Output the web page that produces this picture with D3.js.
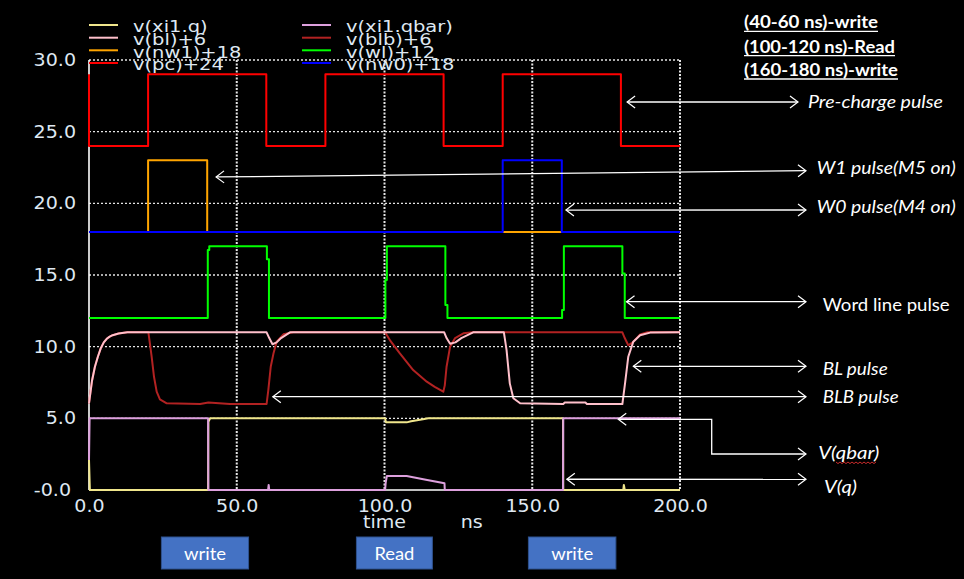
<!DOCTYPE html>
<html><head><meta charset="utf-8">
<script src="https://cdn.jsdelivr.net/npm/d3@7"></script>
<style>body{margin:0;background:#000;} svg{display:block;}</style>
</head><body>
<script>
// ---------------- data ----------------
const xTicks = [0, 50, 100, 150, 200];
const xTickLabels = ["0.0", "50.0", "100.0", "150.0", "200.0"];
const yTicks = [0, 5, 10, 15, 20, 25, 30];
const yTickLabels = ["-0.0", "5.0", "10.0", "15.0", "20.0", "25.0", "30.0"];

// time (ns) / raw voltage (V) of each signal; offsets added when plotted
const pcT = [0, 0, 20, 20, 60, 60, 80, 80, 120, 120, 140, 140, 180, 180, 200];
const pcV = [5, 0, 0, 5, 5, 0, 0, 5, 5, 0, 0, 5, 5, 0, 0];

const nw1T = [0, 20, 20, 40, 40, 200];
const nw1V = [0, 0, 5, 5, 0, 0];

const nw0T = [0, 140, 140, 160, 160, 200];
const nw0V = [0, 0, 5, 5, 0, 0];

const wlT = [0, 40.2, 40.2, 40.7, 40.7, 60.2, 60.2, 60.9, 60.9, 100.3, 100.3, 100.8, 100.8, 120.6, 120.6, 121.3, 121.3, 160.1, 160.1, 160.7, 160.7, 180.5, 180.5, 181.3, 181.3, 200];
const wlV = [0, 0, 4.75, 4.75, 5, 5, 4.1, 4.1, 0, 0, 2.65, 2.65, 5, 5, 0.9, 0.9, 0, 0, 0.55, 0.55, 5, 5, 3.1, 3.1, 0, 0];

const blT = [0, 1, 2, 3, 4, 5, 6, 7, 8, 10, 13, 40, 60.1, 61, 62.1, 63.5, 65, 68, 100, 120.2, 121, 122.2, 124, 126, 130, 140.4, 141.3, 142.4, 143.6, 145.9, 160.5, 161, 168, 168.5, 180.5, 181.4, 182.5, 184.2, 186.5, 189.9, 200];
const blV = [0.05, 1.6, 2.6, 3.3, 3.9, 4.3, 4.55, 4.7, 4.8, 4.92, 5.0, 5.0, 5.0, 4.6, 4.17, 4.3, 4.6, 5.0, 5.0, 5.0, 4.6, 4.2, 4.3, 4.6, 5.0, 5.0, 3.77, 1.44, 0.4, 0.05, 0.0, 0.1, 0.1, 0.0, 0.0, 1.44, 3.3, 4.35, 4.8, 4.98, 5.0];

const blbT = [0, 1, 2, 3, 4, 5, 6, 7, 8, 10, 13, 20.1, 21.2, 22, 22.9, 24, 26.3, 37.6, 40.4, 47.7, 60.1, 60.7, 61.5, 62.4, 63.5, 65.8, 69.1, 100.2, 102, 105.2, 109.7, 114.3, 117, 119.9, 120.4, 121, 122.2, 123.9, 126.7, 130, 180.5, 181.3, 182.5, 184, 186.5, 189, 200];
const blbV = [0.05, 1.6, 2.6, 3.3, 3.9, 4.3, 4.55, 4.7, 4.8, 4.92, 5.0, 5, 3.3, 1.9, 0.86, 0.33, 0.05, 0, 0.1, 0, 0, 1.0, 2.6, 3.5, 4.35, 4.86, 5, 5, 4.4, 3.53, 2.37, 1.56, 1.2, 0.86, 1.3, 2.6, 4.0, 4.6, 4.93, 5, 5, 4.6, 4.1, 4.3, 4.85, 5, 5];

const qT = [0, 0.3, 40.3, 40.4, 41, 100.2, 100.5, 107.5, 109, 111, 113, 114.8, 160.4, 160.5, 180.8, 181, 181.3, 200];
const qV = [2.1, 0, 0, 4.75, 5, 5, 4.72, 4.72, 4.8, 4.87, 4.93, 5, 5, 0, 0, 0.35, 0, 0];

const qbT = [0, 0.2, 40.3, 40.4, 60.6, 60.8, 61, 100.2, 100.4, 100.8, 107.5, 114, 120.3, 120.4, 160.4, 160.5, 200];
const qbV = [2.1, 5, 5, 0, 0, 0.35, 0, 0, 0.5, 0.98, 0.98, 0.72, 0.47, 0, 0, 5, 5];

const legendCol1 = ["v(xi1.q)", "v(bl)+6", "v(nw1)+18", "v(pc)+24"];
const legendCol2 = ["v(xi1.qbar)", "v(blb)+6", "v(wl)+12", "v(nw0)+18"];
const headerLines = ["(40-60 ns)-write", "(100-120 ns)-Read", "(160-180 ns)-write"];
const buttonLabels = ["write", "Read", "write"];
const buttonTimes = [[24.5, 54], [90.5, 116.2], [148.7, 178.3]];

// ---------------- setup ----------------
const W = 964, H = 579;
const svg = d3.select("body").append("svg").attr("width", W).attr("height", H);
svg.append("rect").attr("width", W).attr("height", H).attr("fill", "#000");

const x = d3.scaleLinear().domain([0, 200]).range([89, 680]);
const y = d3.scaleLinear().domain([0, 30]).range([490, 60]);

const txtCol = "#dfe8f2";
function stretch(sel, f) {
  sel.each(function () {
    const w = this.getComputedTextLength();
    d3.select(this).attr("textLength", w * f).attr("lengthAdjust", "spacingAndGlyphs");
  });
}
function fit(sel, w) { sel.attr("textLength", w).attr("lengthAdjust", "spacingAndGlyphs"); }

// grid
const grid = svg.append("g");
grid.selectAll("line.h").data(yTicks.filter(d => d > 0)).join("line")
  .attr("x1", x(0)).attr("x2", x(200)).attr("y1", d => y(d)).attr("y2", d => y(d))
  .attr("stroke", "#e6e6e6").attr("stroke-width", 1.4).attr("stroke-dasharray", "2,2");
grid.selectAll("line.v").data(xTicks.filter(d => d > 0)).join("line")
  .attr("x1", d => x(d)).attr("x2", d => x(d)).attr("y1", y(30)).attr("y2", y(0))
  .attr("stroke", "#e6e6e6").attr("stroke-width", 2).attr("stroke-dasharray", "2,1.5");

// axes lines
svg.append("line").attr("x1", x(0)).attr("x2", x(0)).attr("y1", y(30)).attr("y2", y(0))
  .attr("stroke", "#fff").attr("stroke-width", 1.6);
svg.append("line").attr("x1", x(0)).attr("x2", x(200)).attr("y1", y(0)).attr("y2", y(0))
  .attr("stroke", "#fff").attr("stroke-width", 1.6);

// y axis labels
const yAxis = d3.axisLeft(y).tickValues(yTicks).tickSize(0).tickPadding(13)
  .tickFormat((d, i) => yTickLabels[i]);
const gy = svg.append("g").attr("transform", `translate(${x(0)},0)`).call(yAxis);
gy.select(".domain").remove();
gy.selectAll("text").attr("fill", txtCol).attr("font-family", "DejaVu Sans").attr("font-size", 17)
  .attr("dx", d => d === 0 ? -5 : 0);
stretch(gy.selectAll("text"), 1.12);

// x axis labels
const xAxis = d3.axisBottom(x).tickValues(xTicks).tickSize(0).tickPadding(10)
  .tickFormat((d, i) => xTickLabels[i]);
const gx = svg.append("g").attr("transform", `translate(0,${y(0)})`).call(xAxis);
gx.select(".domain").remove();
gx.selectAll("text").attr("fill", txtCol).attr("font-family", "DejaVu Sans").attr("font-size", 17);
stretch(gx.selectAll("text"), 1.12);

svg.append("text").attr("x", x(100)).attr("y", 528).attr("text-anchor", "middle")
  .attr("fill", txtCol).attr("font-family", "DejaVu Sans").attr("font-size", 17).text("time")
  .call(s => stretch(s, 1.12));
svg.append("text").attr("x", x(129.5)).attr("y", 528).attr("text-anchor", "middle")
  .attr("fill", txtCol).attr("font-family", "DejaVu Sans").attr("font-size", 17).text("ns")
  .call(s => stretch(s, 1.12));

// series
const series = [
  { name: "v(pc)+24", t: pcT, v: pcV, off: 24, color: "#ff0000" },
  { name: "v(nw1)+18", t: nw1T, v: nw1V, off: 18, color: "#ffa500" },
  { name: "v(nw0)+18", t: nw0T, v: nw0V, off: 18, color: "#0000ff" },
  { name: "v(wl)+12", t: wlT, v: wlV, off: 12, color: "#00ff00" },
  { name: "v(blb)+6", t: blbT, v: blbV, off: 6, color: "#b22222" },
  { name: "v(bl)+6", t: blT, v: blV, off: 6, color: "#ffc0cb" },
  { name: "v(xi1.q)", t: qT, v: qV, off: 0, color: "#f0e68c" },
  { name: "v(xi1.qbar)", t: qbT, v: qbV, off: 0, color: "#dda0dd" }
];
const colorOf = {};
series.forEach(s => colorOf[s.name] = s.color);

series.forEach(s => {
  const pts = s.t.map((t, i) => [t, s.v[i] + s.off]);
  svg.append("path").datum(pts)
    .attr("d", d3.line().x(d => x(d[0])).y(d => y(d[1])))
    .attr("fill", "none").attr("stroke", s.color).attr("stroke-width", 2)
    .attr("stroke-linejoin", "round");
});

// legend
const legRows = [25, 37.7, 50.3, 63];
[[legendCol1, 89, 133], [legendCol2, 302, 346]].forEach(([names, sx, tx]) => {
  names.forEach((n, i) => {
    svg.append("line").attr("x1", sx).attr("x2", sx + 29).attr("y1", legRows[i]).attr("y2", legRows[i])
      .attr("stroke", colorOf[n]).attr("stroke-width", 2);
    svg.append("text").attr("x", tx).attr("y", legRows[i] + 7.3).attr("fill", txtCol)
      .attr("font-family", "DejaVu Sans").attr("font-size", 16.5).text(n)
      .call(s => stretch(s, 1.18));
  });
});

// headers (top right)
const headerY = [28.3, 52.7, 76];
const headerW = [134, 151, 154];
headerLines.forEach((h, i) => {
  svg.append("text").attr("x", 744).attr("y", headerY[i]).attr("fill", "#fff")
    .attr("font-family", "Lato").attr("font-weight", "bold").attr("font-size", 16.5).text(h)
    .call(s => fit(s, headerW[i]));
  svg.append("line").attr("x1", 744).attr("x2", 744 + headerW[i])
    .attr("y1", headerY[i] + 3).attr("y2", headerY[i] + 3).attr("stroke", "#fff").attr("stroke-width", 1.3);
});

// annotation arrows
function head(px, py, dx, dy) {
  const L = 8, Hh = 6;
  const len = Math.hypot(dx, dy); const ux = dx / len, uy = dy / len;
  const bx = px + ux * L, by = py + uy * L;
  const nx = -uy, ny = ux;
  svg.append("path").attr("d", `M${bx + nx * Hh},${by + ny * Hh}L${px},${py}L${bx - nx * Hh},${by - ny * Hh}`)
    .attr("fill", "none").attr("stroke", "#fff").attr("stroke-width", 1.2);
}
const annots = [
  { t: 182.1, v: 27.07, rx: 798, ry: 102, label: "Pre-charge pulse", tx: 808, ty: 108, w: 135, italic: true },
  { t: 43.0, v: 21.84, rx: 806, ry: 170.7, label: "W1 pulse(M5 on)", tx: 816.7, ty: 174, w: 139, italic: true },
  { t: 161.4, v: 19.53, rx: 806, ry: 210, label: "W0 pulse(M4 on)", tx: 816.7, ty: 213, w: 139, italic: true },
  { t: 181.9, v: 13.14, rx: 806, ry: 301.7, label: "Word line pulse", tx: 822.7, ty: 310.7, w: 127, italic: false },
  { t: 184.2, v: 8.63, rx: 806, ry: 366.3, label: "BL pulse", tx: 822.7, ty: 375, w: 65, italic: true },
  { t: 62.2, v: 6.51, rx: 806, ry: 396.7, label: "BLB pulse", tx: 822.7, ty: 403.3, w: 76, italic: true },
  { t: 161.7, v: 0.75, rx: 806, ry: 479.3, label: "V(q)", tx: 824, ty: 493, w: 33, italic: true }
];
annots.forEach(a => {
  const px = x(a.t), py = y(a.v);
  svg.append("line").attr("x1", px).attr("y1", py).attr("x2", a.rx).attr("y2", a.ry)
    .attr("stroke", "#fff").attr("stroke-width", 1.3);
  head(px, py, a.rx - px, a.ry - py);
  head(a.rx, a.ry, px - a.rx, py - a.ry);
  svg.append("text").attr("x", a.tx).attr("y", a.ty).attr("fill", "#fff")
    .attr("font-family", "Lato").attr("font-style", a.italic ? "italic" : "normal")
    .attr("font-size", 17).text(a.label).call(s => fit(s, a.w));
});
// qbar elbow arrow
{
  const px = x(179.1), py = y(4.93);
  svg.append("path").attr("d", `M${px},${py}H711.7V454H806`)
    .attr("fill", "none").attr("stroke", "#fff").attr("stroke-width", 1.3);
  head(px, py, 1, 0);
  head(806, 454, -1, 0);
  svg.append("text").attr("x", 818.3).attr("y", 458.7).attr("fill", "#fff")
    .attr("font-family", "Lato").attr("font-style", "italic").attr("font-size", 17)
    .text("V(qbar)").call(s => fit(s, 61));
  // spell-check squiggle
  let d = "M836,462";
  for (let i = 0; i < 20; i++) d += `L${838 + i * 2},${i % 2 ? 462 : 463.6}`;
  svg.append("path").attr("d", d).attr("fill", "none").attr("stroke", "#e03030").attr("stroke-width", 0.9);
}

// buttons
buttonLabels.forEach((b, i) => {
  const x0 = x(buttonTimes[i][0]), x1 = x(buttonTimes[i][1]);
  svg.append("rect").attr("x", x0).attr("y", 537).attr("width", x1 - x0).attr("height", 32)
    .attr("fill", "#4472c4").attr("stroke", "#2f528f").attr("stroke-width", 1);
  svg.append("text").attr("x", (x0 + x1) / 2).attr("y", 560).attr("text-anchor", "middle")
    .attr("fill", "#fff").attr("font-family", "Lato").attr("font-size", 18).text(b)
    .call(s => fit(s, b === "Read" ? 40 : 42));
});
</script>
</body></html>
